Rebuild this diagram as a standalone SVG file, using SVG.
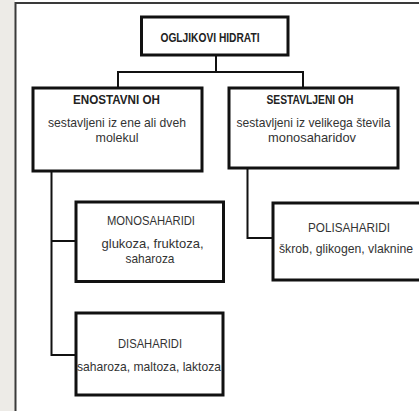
<svg xmlns="http://www.w3.org/2000/svg" width="419" height="411" viewBox="0 0 419 411">
<style>
.box{fill:#fff;stroke:#111;stroke-width:3}
.ln{fill:none;stroke:#111;stroke-width:2}
text{font-family:"Liberation Sans",Arial,sans-serif;font-size:13.5px;fill:#333;text-anchor:middle}
.h{font-weight:bold;fill:#222;font-size:13px}
</style>
<rect x="0" y="0" width="419" height="411" fill="#fff"/>
<rect x="0" y="0" width="15" height="411" fill="#edebe7"/>
<path d="M15.5 411V3H419" fill="none" stroke="#3a3a3a" stroke-width="2"/>
<g id="connectors">
<path class="ln" d="M216 55V72M118 88V72H303V88"/>
<path class="ln" d="M51.5 170V355H76M51.5 241H76"/>
<path class="ln" d="M247.5 168V238H273"/>
</g>
<g id="ogljikovi">
<rect class="box" x="141.5" y="17" width="146.5" height="38"/>
<text class="h" x="210" y="41.5" textLength="99" lengthAdjust="spacingAndGlyphs">OGLJIKOVI HIDRATI</text>
</g>
<g id="enostavni">
<rect class="box" x="33" y="88" width="169" height="83"/>
<text class="h" x="116.5" y="103.5" textLength="87" lengthAdjust="spacingAndGlyphs">ENOSTAVNI OH</text>
<text x="117" y="126.5" textLength="138" lengthAdjust="spacingAndGlyphs">sestavljeni iz ene ali dveh</text>
<text x="117" y="141.5" textLength="43" lengthAdjust="spacingAndGlyphs">molekul</text>
</g>
<g id="sestavljeni">
<rect class="box" x="229" y="88" width="169" height="80"/>
<text class="h" x="310" y="103.5" textLength="87" lengthAdjust="spacingAndGlyphs">SESTAVLJENI OH</text>
<text x="313.5" y="126.5" textLength="154" lengthAdjust="spacingAndGlyphs">sestavljeni iz velikega števila</text>
<text x="312" y="141.5" textLength="88" lengthAdjust="spacingAndGlyphs">monosaharidov</text>
</g>
<g id="monosaharidi">
<rect class="box" x="76" y="202" width="147.5" height="79.5"/>
<text x="151" y="225" textLength="88" lengthAdjust="spacingAndGlyphs">MONOSAHARIDI</text>
<text x="152.5" y="248" textLength="102" lengthAdjust="spacingAndGlyphs">glukoza, fruktoza,</text>
<text x="150" y="263" textLength="49" lengthAdjust="spacingAndGlyphs">saharoza</text>
</g>
<g id="polisaharidi">
<rect class="box" x="273" y="203" width="150" height="77"/>
<text x="349" y="231.5" textLength="82" lengthAdjust="spacingAndGlyphs">POLISAHARIDI</text>
<text x="346" y="253" textLength="134" lengthAdjust="spacingAndGlyphs">škrob, glikogen, vlaknine</text>
</g>
<g id="disaharidi">
<rect class="box" x="76" y="313" width="147" height="82"/>
<text x="150" y="348" textLength="64" lengthAdjust="spacingAndGlyphs">DISAHARIDI</text>
<text x="149" y="370.5" textLength="144" lengthAdjust="spacingAndGlyphs">saharoza, maltoza, laktoza</text>
</g>
</svg>
